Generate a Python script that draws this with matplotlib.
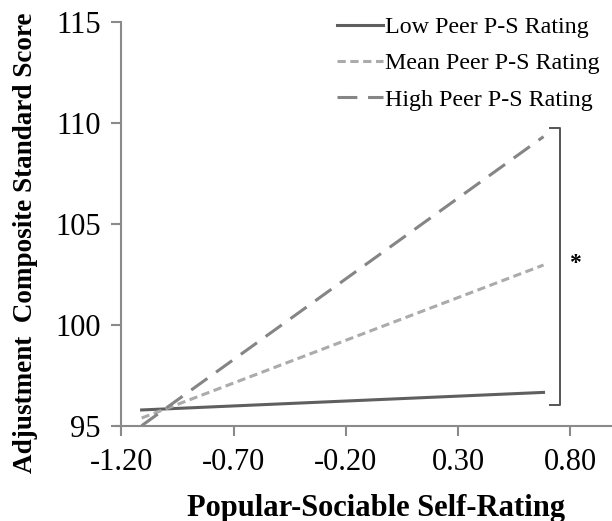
import numpy as np
import matplotlib
matplotlib.use("Agg")
import matplotlib.pyplot as plt

plt.rcParams["font.family"] = ["Liberation Serif", "DejaVu Serif"]
plt.rcParams["axes.unicode_minus"] = False

# simple slopes: predicted adjustment score at low / high self-rating
self_rating = [-1.11, 0.68]
low_peer = [95.78, 96.65]
mean_peer = [95.38, 102.96]
high_peer = [95.0, 109.32]

series_names = ["Low Peer P-S Rating", "Mean Peer P-S Rating", "High Peer P-S Rating"]
x_ticks = [-1.20, -0.70, -0.20, 0.30, 0.80]
y_ticks = [95, 100, 105, 110, 115]

# significance bracket spanning the three slopes
bracket_x = [0.71, 0.755]
bracket_y = [96.03, 109.75]

fig = plt.figure(figsize=(6.12, 5.21), dpi=100)
ax = fig.add_axes([116.7 / 612, 1 - 425.7 / 521, (612 - 116.7) / 612, (425.7 - 22) / 521])

ax.plot(self_rating, low_peer, color="#5f5f5f", lw=2.2, label=series_names[0])
ax.plot(self_rating, mean_peer, color="#ababab", lw=2.2, linestyle=(0, (2.7, 1.5)), label=series_names[1])
ax.plot(self_rating, high_peer, color="#858585", lw=2.2, linestyle=(0, (6.5, 3.5)), label=series_names[2])

# bracket and asterisk
bx0, bx1 = bracket_x
by0, by1 = bracket_y
ax.plot([bx0, bx1, bx1, bx0], [by1, by1, by0, by0], color="#555555", lw=1.4, clip_on=False)
ax.text(0.82, 103.06, "*", fontsize=17, fontweight="bold", ha="center", va="center")

ax.set_xlim(-1.221, 0.985)
ax.set_ylim(95, 115)
ax.spines["left"].set_position(("data", -1.2))
ax.spines["left"].set_bounds(95, 115)
for side in ["top", "right"]:
    ax.spines[side].set_visible(False)
for side in ["left", "bottom"]:
    ax.spines[side].set_color("#8a8a8a")
    ax.spines[side].set_linewidth(1.5)

ax.set_xticks(x_ticks)
ax.set_xticklabels(["%.2f" % v for v in x_ticks])
ax.set_yticks(y_ticks)
ax.tick_params(axis="both", direction="out", length=7, width=1.5, color="#8a8a8a",
               labelsize=22)
ax.tick_params(axis="y", pad=8)
ax.tick_params(axis="x", pad=9)

ax.set_xlabel("Popular-Sociable Self-Rating", fontsize=22, fontweight="bold")
ax.xaxis.set_label_coords((376 - 116.7) / (612 - 116.7), -0.168)
ax.set_ylabel("Adjustment  Composite Standard Score", fontsize=19.5, fontweight="bold")
ax.yaxis.set_label_coords(-0.158, 0.4526)

leg = ax.legend(loc="upper left", bbox_to_anchor=((337 - 116.7) / 495.3, 1.014), frameon=False,
                fontsize=17.3, handlelength=1.9, handletextpad=0.1, labelspacing=0.6,
                borderaxespad=0, borderpad=0)

fig.savefig("out.png", dpi=100)
